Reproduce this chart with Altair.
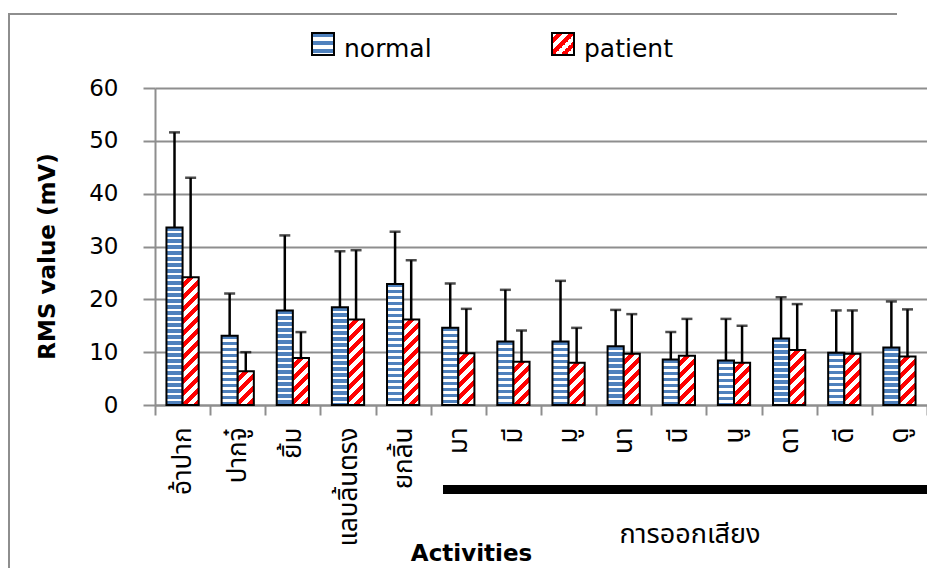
import altair as alt

# ---------------- data ----------------
categories = ["อ้าปาก", "ปากจู๋", "ยิ้ม", "แลบลิ้นตรง", "ยกลิ้น",
              "มา", "มี", "มู", "นา", "นี", "นู", "ดา", "ดี", "ดู"]
series = ["normal", "patient"]
normal_mean = [33.6, 13.1, 17.9, 18.5, 22.9, 14.6, 12.0, 12.0, 11.1, 8.6, 8.4, 12.6, 9.9, 10.9]
normal_sd = [18.0, 8.0, 14.2, 10.6, 9.9, 8.4, 9.8, 11.5, 6.9, 5.2, 7.9, 7.8, 8.0, 8.7]
patient_mean = [24.2, 6.4, 8.9, 16.2, 16.2, 9.8, 8.2, 8.0, 9.7, 9.3, 8.0, 10.4, 9.7, 9.2]
patient_sd = [18.8, 3.6, 4.9, 13.1, 11.2, 8.4, 5.9, 6.6, 7.5, 7.0, 7.0, 8.7, 8.2, 8.9]
y_ticks = [0, 10, 20, 30, 40, 50, 60]
group_label = "การออกเสียง"

# ---------------- layout / style ----------------
W, H = 772, 317
YMAX = 60
BLUE, RED, WHITE = "#4f81bd", "#ff0000", "#ffffff"
GRID = "#8e8e8e"
LATIN = "DejaVu Sans"
THAI = "Noto Sans Thai, Leelawadee UI, Tahoma, DejaVu Sans, sans-serif"
PAD_OUTER = 0.71
bar_w = (W / len(categories)) / (2 + 2 * PAD_OUTER)


def hstripes(h_px, period=6.0, dark=3.4):
    h_px = max(h_px, 1.0)
    stops, y = [], 0.0
    while y < h_px:
        a = y / h_px
        b = min((y + dark) / h_px, 1.0)
        c = min((y + period) / h_px, 1.0)
        stops += [{"offset": a, "color": BLUE}, {"offset": b, "color": BLUE},
                  {"offset": b, "color": WHITE}, {"offset": c, "color": WHITE}]
        y += period
    return {"gradient": "linear", "x1": 0, "y1": 0, "x2": 0, "y2": 1, "stops": stops}


def dstripes(w_px, h_px, period=12.0, red=6.0):
    h_px = max(h_px, 1.0)
    s_tot = w_px + h_px
    den = w_px * w_px + h_px * h_px
    x2 = w_px * s_tot / den
    y2 = h_px * s_tot / den
    stops, s = [], 0.0
    while s < s_tot:
        a = s / s_tot
        b = min((s + red) / s_tot, 1.0)
        c = min((s + period) / s_tot, 1.0)
        stops += [{"offset": a, "color": WHITE}, {"offset": b, "color": WHITE},
                  {"offset": b, "color": RED}, {"offset": c, "color": RED}]
        s += period
    return {"gradient": "linear", "x1": 0, "y1": 0, "x2": x2, "y2": y2, "stops": stops}


records = []
for i, cat in enumerate(categories):
    for s, means, sds in (("normal", normal_mean, normal_sd), ("patient", patient_mean, patient_sd)):
        m, sd = means[i], sds[i]
        hpx = m * H / YMAX
        grad = hstripes(hpx) if s == "normal" else dstripes(bar_w, hpx)
        records.append({"cat": cat, "series": s, "value": m, "err": m + sd, "grad": grad})

data = alt.Data(values=records)
one = alt.Data(values=[{"k": 1}])

PAD_BOTTOM = 163

x_axis = alt.Axis(title="Activities", labelAngle=270, labelAlign="right", labelBaseline="middle",
                  labelFont=THAI, labelFontSize=26, labelColor="black", labelPadding=12,
                  tickBand="extent", tickSize=10, tickColor=GRID, tickWidth=2,
                  domainColor=GRID, domainWidth=2, grid=False,
                  titleFont=LATIN, titleFontSize=23, titleFontWeight="bold", titleColor="black",
                  titleX=316, titleY=148, titleAlign="center", titleBaseline="middle")
y_axis = alt.Axis(title="RMS value (mV)", values=y_ticks, labelFont=LATIN, labelFontSize=23,
                  labelColor="black", labelPadding=25, tickSize=12, tickColor=GRID, tickWidth=2,
                  domainColor=GRID, domainWidth=2, gridColor=GRID, gridWidth=2,
                  titleFont=LATIN, titleFontSize=23, titleFontWeight="bold", titleColor="black",
                  titleX=-108, titleY=168, titleAngle=270, titleAlign="center", titleBaseline="middle")

X = alt.X("cat:N", sort=categories, axis=x_axis,
          scale=alt.Scale(paddingInner=0, paddingOuter=0))
XO = alt.XOffset("series:N", sort=series, scale=alt.Scale(paddingInner=0, paddingOuter=PAD_OUTER))
yscale = alt.Scale(domain=[0, YMAX], nice=False)

base = alt.Chart(data).encode(x=X, xOffset=XO)

bars = base.mark_bar(stroke="black", strokeWidth=2).encode(
    y=alt.Y("value:Q", scale=yscale, axis=y_axis, stack=None),
    fill=alt.Fill("grad:N", scale=None, legend=None),
)
rules = base.mark_rule(color="black", strokeWidth=2.5).encode(
    y=alt.Y("value:Q", scale=yscale, axis=y_axis, stack=None), y2="err:Q")
caps = base.mark_tick(color="black", thickness=2.5, size=11).encode(
    y=alt.Y("err:Q", scale=yscale, axis=y_axis))

# group annotation
underline = alt.Chart(one).mark_rule(color="black", strokeWidth=9).encode(
    x=alt.value(288), x2=alt.value(W), y=alt.value(401.5))
group_text = alt.Chart(one).mark_text(text=group_label, font=THAI, fontSize=27,
                                      align="center", baseline="middle", color="black").encode(
    x=alt.value(535), y=alt.value(447))

# legend
leg_n_box = alt.Chart(one).mark_rect(stroke="black", strokeWidth=2).encode(
    x=alt.value(157), x2=alt.value(179), y=alt.value(-55), y2=alt.value(-33),
    fill=alt.value(hstripes(22, period=8.0, dark=4.0)))
leg_n_txt = alt.Chart(one).mark_text(text=series[0], font=LATIN, fontSize=25, align="left",
                                     baseline="alphabetic", color="black").encode(
    x=alt.value(189), y=alt.value(-31))
leg_p_box = alt.Chart(one).mark_rect(stroke="black", strokeWidth=2).encode(
    x=alt.value(397), x2=alt.value(419), y=alt.value(-55), y2=alt.value(-33),
    fill=alt.value(dstripes(22, 22, period=12.0, red=6.0)))
leg_p_txt = alt.Chart(one).mark_text(text=series[1], font=LATIN, fontSize=25, align="left",
                                     baseline="alphabetic", color="black").encode(
    x=alt.value(429), y=alt.value(-31))

# chart-area border (top and left edges visible)
border_top = alt.Chart(one).mark_rule(color=GRID, strokeWidth=2).encode(
    x=alt.value(-147), x2=alt.value(W - 30), y=alt.value(-74))
border_left = alt.Chart(one).mark_rule(color=GRID, strokeWidth=2).encode(
    x=alt.value(-146), y=alt.value(-74), y2=alt.value(H + PAD_BOTTOM))

chart = alt.layer(
    bars, rules, caps, underline, group_text,
    leg_n_box, leg_n_txt, leg_p_box, leg_p_txt, border_top, border_left
).properties(
    width=W, height=H,
    autosize=alt.AutoSizeParams(type="none"),
    padding={"left": 147, "top": 80, "right": 0, "bottom": PAD_BOTTOM},
    background="white",
).configure_view(strokeWidth=0)

chart.save("out.html", embed_options={"renderer": "svg", "actions": False})
